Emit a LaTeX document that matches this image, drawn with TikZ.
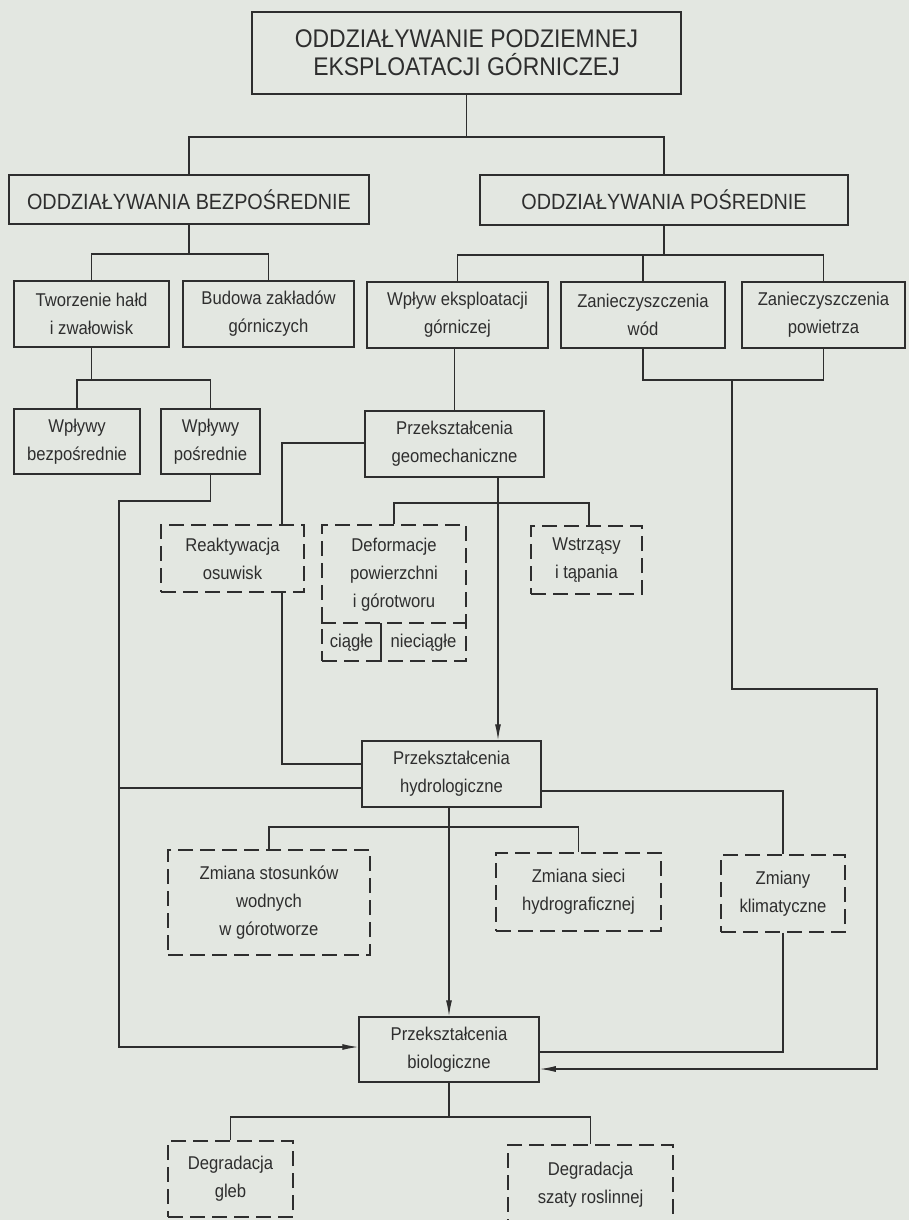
\documentclass[tikz,border=0pt]{standalone}
\usepackage{fontspec}
\setmainfont[FakeStretch=0.9]{Liberation Sans}
\usetikzlibrary{arrows.meta,calc}
\definecolor{paper}{HTML}{E3E7E1}
\definecolor{ink}{HTML}{2E2E2E}
\begin{document}
\begin{tikzpicture}[x=1pt,y=-1pt,
 box/.style={draw=ink, line width=1.5pt, inner sep=0pt, align=center, text=ink, font=\fontsize{18.5}{28}\selectfont},
 dbox/.style={box, dash pattern=on 15pt off 7pt},
 txt/.style={inner sep=0pt, align=center, text=ink, font=\fontsize{18.5}{28}\selectfont},
 line/.style={draw=ink, line width=1.2pt},
 arr/.style={line, -{Latex[length=16pt,width=6pt]}},
]
\useasboundingbox (0,0) rectangle (909,1220);
\fill[paper] (0,0) rectangle (909,1220);
\clip (0,0) rectangle (909,1220);

% nodes
\node[box, minimum width=429pt, minimum height=82pt, font=\fontsize{25.5}{28}\selectfont] (top) at (466.5,53) {ODDZIAŁYWANIE PODZIEMNEJ\\EKSPLOATACJI GÓRNICZEJ};
\node[box, minimum width=360pt, minimum height=49pt, font=\fontsize{22}{24}\selectfont] (bez) at (189,199.5) {ODDZIAŁYWANIA BEZPOŚREDNIE};
\node[box, minimum width=368pt, minimum height=50pt, font=\fontsize{22}{24}\selectfont] (pos) at (664,200) {ODDZIAŁYWANIA POŚREDNIE};

\node[box, minimum width=155pt, minimum height=66pt] (tworz) at (91.5,314) {Tworzenie hałd\\i zwałowisk};
\node[box, minimum width=171pt, minimum height=66pt] (budowa) at (268.5,314) {Budowa zakładów\\górniczych};
\node[box, minimum width=181pt, minimum height=66pt] (wplyw) at (457.5,315) {Wpływ eksploatacji\\górniczej};
\node[box, minimum width=164pt, minimum height=66pt] (wod) at (643,315) {Zanieczyszczenia\\wód};
\node[box, minimum width=163pt, minimum height=66pt] (powietrza) at (823.5,315) {Zanieczyszczenia\\powietrza};

\node[box, minimum width=126pt, minimum height=65pt] (wbez) at (77,441.5) {Wpływy\\bezpośrednie};
\node[box, minimum width=99pt, minimum height=65pt] (wpos) at (210.5,441.5) {Wpływy\\pośrednie};
\node[box, minimum width=179pt, minimum height=66pt] (geomech) at (454.5,444) {Przekształcenia\\geomechaniczne};

\node[dbox, minimum width=143pt, minimum height=67pt] (reakt) at (232.5,558.5) {Reaktywacja\\osuwisk};
\node[dbox, minimum width=144pt, minimum height=136pt] (deform) at (394,593) {};
\node[txt] (deformt) at (394,575) {Deformacje\\powierzchni\\i górotworu};
\node[txt] (ciagle) at (351.5,643) {ciągłe};
\node[txt] (nieciagle) at (423.5,643) {nieciągłe};
\node[dbox, minimum width=111pt, minimum height=68pt] (wstrz) at (586.5,560) {Wstrząsy\\i tąpania};

\node[box, minimum width=179pt, minimum height=66pt] (hydro) at (451.5,774) {Przekształcenia\\hydrologiczne};

\node[dbox, minimum width=202pt, minimum height=105pt] (stos) at (269,902.5) {Zmiana stosunków\\wodnych\\w górotworze};
\node[dbox, minimum width=165pt, minimum height=78pt] (sieci) at (578.5,892) {Zmiana sieci\\hydrograficznej};
\node[dbox, minimum width=124pt, minimum height=77pt] (klim) at (783,893.5) {Zmiany\\klimatyczne};

\node[box, minimum width=180pt, minimum height=65pt] (bio) at (449,1049.5) {Przekształcenia\\biologiczne};

\node[dbox, minimum width=125pt, minimum height=76pt] (gleb) at (230.5,1179) {Degradacja\\gleb};
\node[dbox, minimum width=165pt, minimum height=80pt] (szaty) at (590.5,1185) {Degradacja\\szaty roslinnej};

% deformacje inner divisions
\coordinate (d1) at (0,623);
\coordinate (d2) at (381,623);
\draw[line, dash pattern=on 15pt off 7pt] (deform.west |- d1) -- (deform.east |- d1);
\draw[line] (d2) -- (d2 |- deform.south);

% connectors
\coordinate (j1) at (466.5,137);
\draw[line] (top.south) -- (j1);
\draw[line] (bez.north) |- (j1) -| (pos.north);

\coordinate (j2) at (189,254);
\draw[line] (bez.south) -- (j2);
\draw[line] (tworz.north) |- (j2) -| (budowa.north);

\coordinate (j3) at (664,255);
\draw[line] (pos.south) -- (j3);
\draw[line] (wplyw.north) |- (j3) -| (powietrza.north);
\draw[line] (wod.north) -- (wod.north |- j3);

\coordinate (j4) at (91.5,380);
\draw[line] (tworz.south) -- (j4);
\draw[line] (wbez.north) |- (j4) -| (wpos.north);

\draw[line] (geomech.north) -- (geomech.north |- wplyw.south);

\coordinate (j5) at (732,380);
\draw[line] (wod.south) |- (j5) -| (powietrza.south);
\coordinate (r1) at (732,689);
\coordinate (r2) at (877,1069);
\draw[arr] (j5) -- (r1) -| (r2) -- (bio.east |- r2);

\coordinate (l1) at (119,501);
\coordinate (l2) at (119,1047);
\draw[arr] (wpos.south) |- (l1) -- (l2) -- (bio.west |- l2);
\coordinate (l3) at (119,788);
\draw[line] (hydro.west |- l3) -- (l3);

\coordinate (g1) at (282,443);
\coordinate (g2) at (282,764);
\draw[line] (geomech.west |- g1) -- (g1) -- (g1 |- reakt.north);
\draw[line] (g1 |- reakt.south) -- (g2) -- (hydro.west |- g2);

\coordinate (gx) at (498,0);
\draw[arr] (geomech.south -| gx) -- (hydro.north -| gx);
\coordinate (br) at (589,503);
\draw[line] (deform.north) |- (br) -- (wstrz.north -| br);

\coordinate (k1) at (783,791);
\draw[line] (hydro.east |- k1) -- (k1) -- (klim.north);
\coordinate (k2) at (783,1052);
\draw[line] (klim.south) -- (k2) -- (bio.east |- k2);

\draw[arr] (bio.north |- hydro.south) -- (bio.north);
\coordinate (hb) at (449,827);
\draw[line] (stos.north) |- (hb) -| (sieci.north);

\coordinate (bb) at (449,1117);
\draw[line] (bio.south) -- (bb);
\draw[line] (gleb.north) |- (bb) -| (szaty.north);
\end{tikzpicture}
\end{document}
